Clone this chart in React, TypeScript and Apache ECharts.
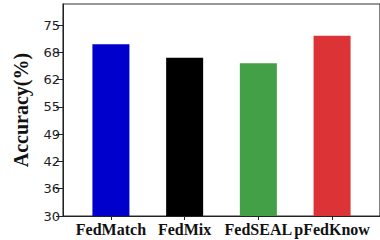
import React, { useEffect, useRef } from "react";
import * as echarts from "echarts";

const categories = ["FedMatch", "FedMix", "FedSEAL", "pFedKnow"];
const accuracy = [70.5, 67.3, 66.0, 72.5];
const barColors = ["#0000cd", "#000000", "#43a047", "#dc3337"];
const yTickValues = [30, 36.43, 42.86, 49.29, 55.71, 62.14, 68.57, 75];
const xTickValues = [0, 1, 2, 3];

export default function App() {
  const ref = useRef<HTMLDivElement>(null);
  useEffect(() => {
    if (!ref.current) return;
    const chart = echarts.init(ref.current, null, { renderer: "svg" });
    chart.setOption({
      animation: false,
      grid: {
        left: 63,
        top: 4,
        bottom: 24,
        right: -12,
        show: true,
        borderColor: "#333",
        borderWidth: 1.2,
      },
      xAxis: {
        type: "value",
        min: -0.65,
        max: 3.65,
        splitLine: { show: false },
        axisLine: { show: true, onZero: false, lineStyle: { color: "#222" } },
        axisTick: { show: true, customValues: xTickValues, length: 4, lineStyle: { color: "#222" } },
        axisLabel: {
          customValues: xTickValues,
          formatter: (v: number) => categories[Math.round(v)] ?? "",
          fontFamily: "Liberation Serif",
          fontWeight: "bold",
          fontSize: 16,
          color: "#111",
          margin: 5,
        },
      },
      yAxis: {
        type: "value",
        min: 30,
        max: 80,
        name: "Accuracy(%)",
        nameLocation: "middle",
        nameGap: 32,
        nameTextStyle: {
          fontFamily: "Liberation Serif",
          fontWeight: "bold",
          fontSize: 20,
          color: "#111",
        },
        splitLine: { show: false },
        axisLine: { show: true, onZero: false, lineStyle: { color: "#222" } },
        axisTick: { show: true, customValues: yTickValues, length: 7, lineStyle: { color: "#222" } },
        axisLabel: {
          customValues: yTickValues,
          formatter: (v: number) => String(Math.floor(v + 1e-6)),
          fontFamily: "DejaVu Sans",
          fontSize: 13,
          color: "#222",
          margin: 3,
        },
      },
      series: [
        {
          type: "bar",
          barWidth: 37,
          data: accuracy.map((v, i) => ({
            value: [i, v],
            itemStyle: { color: barColors[i] },
          })),
        },
      ],
    });
    return () => chart.dispose();
  }, []);
  return (
    <div
      ref={ref}
      style={{ position: "fixed", left: 0, top: 0, width: 380, height: 240, background: "#fff" }}
    />
  );
}
